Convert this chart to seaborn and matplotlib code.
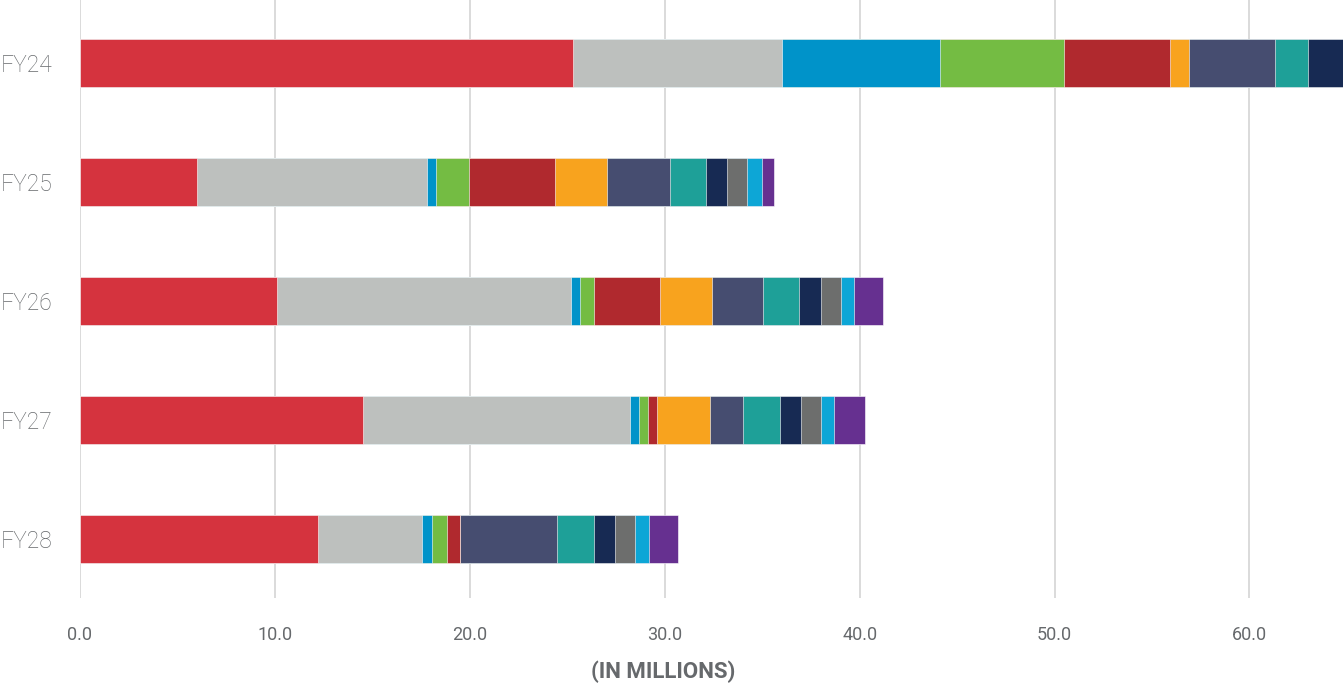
import numpy as np
import pandas as pd
import matplotlib
matplotlib.use("Agg")
import matplotlib.pyplot as plt
import seaborn as sns

# ---------- datos (en millones) ----------
anios = ["FY24", "FY25", "FY26", "FY27", "FY28"]

seg_rojo      = [25.3,  6.0, 10.1, 14.5, 12.2]
seg_gris      = [10.7, 11.8, 15.1, 13.7,  5.35]
seg_azul      = [ 8.1,  0.45, 0.45, 0.5,  0.5]
seg_verde     = [ 6.4,  1.7,  0.7,  0.45, 0.8]
seg_granate   = [ 5.4,  4.4,  3.4,  0.45, 0.65]
seg_naranja   = [ 1.0,  2.7,  2.7,  2.7,  0.0]
seg_pizarra   = [ 4.4,  3.2,  2.6,  1.7,  4.95]
seg_turquesa  = [ 1.7,  1.85, 1.85, 1.9,  1.9]
seg_marino    = [ 2.0,  1.1,  1.1,  1.1,  1.1]
seg_gris_osc  = [ 0.0,  1.0,  1.05, 1.0,  1.0]
seg_celeste   = [ 0.0,  0.77, 0.65, 0.7,  0.72]
seg_morado    = [ 0.0,  0.66, 1.5,  1.6,  1.5]

segmentos = [seg_rojo, seg_gris, seg_azul, seg_verde, seg_granate, seg_naranja,
             seg_pizarra, seg_turquesa, seg_marino, seg_gris_osc, seg_celeste, seg_morado]
colores = ["#D5333E", "#BDC0BE", "#0093C9", "#74BC43", "#B0292E", "#F8A31E",
           "#464D70", "#1EA098", "#172A53", "#6D6E6D", "#0DA6D6", "#663090"]

ticks_x = [0, 10, 20, 30, 40, 50, 60]

# ---------- figura ----------
sns.set_style("white")
plt.rcParams["font.family"] = ["Roboto", "DejaVu Sans"]

fig = plt.figure(figsize=(13.43, 6.89), dpi=100)
ax = fig.add_axes([80 / 1343, 1 - 598 / 689, 1 - 80 / 1343, 598 / 689])

acumulado = np.cumsum(np.array(segmentos), axis=0)

# barras apiladas: se dibuja el acumulado de mayor a menor encima
for i in range(len(segmentos) - 1, -1, -1):
    df = pd.DataFrame({"anio": anios, "valor": acumulado[i]})
    sns.barplot(data=df, x="valor", y="anio", orient="h", color=colores[i],
                width=0.4, saturation=1, ax=ax, zorder=3,
                edgecolor="white", linewidth=0.4)

ax.set_xlim(0, 64.8)
ax.set_ylim(4.496, -0.53)
ax.set_xticks(ticks_x)
ax.set_xticklabels([f"{t:.1f}" for t in ticks_x])

gris_txt = "#66696C"
ax.grid(axis="x", color="#D4D4D4", linewidth=1.2, zorder=0)
ax.grid(axis="y", visible=False)
for s in ax.spines.values():
    s.set_visible(False)

ax.tick_params(axis="x", length=14, width=1.2, color="#D4D4D4", pad=6,
               labelsize=13, labelcolor=gris_txt)
ax.tick_params(axis="y", length=0, pad=20, labelsize=16.5, labelcolor=gris_txt)
for lbl in ax.get_yticklabels():
    lbl.set_fontweight("light")

ax.set_ylabel("")
ax.set_xlabel("(IN MILLIONS)", fontsize=16, fontweight="bold", color=gris_txt, labelpad=11)
ax.xaxis.set_label_coords((663 - 80) / 1263, -(672 - 598) / 598)
ax.xaxis.label.set_verticalalignment("center")

fig.savefig("out.png", dpi=100)
